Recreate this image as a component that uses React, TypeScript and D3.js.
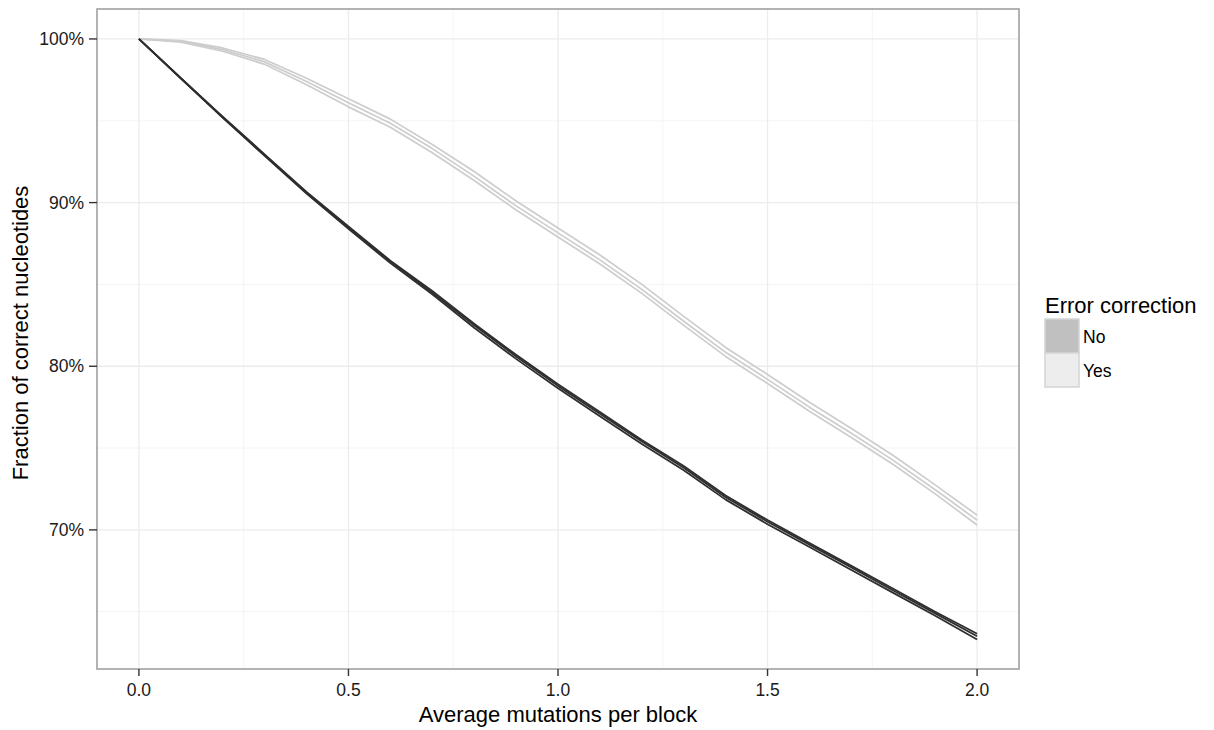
import React from "react";
import * as d3 from "d3";

// average mutations per block
const mutations = [
  0, 0.1, 0.2, 0.3, 0.4, 0.5, 0.6, 0.7, 0.8, 0.9, 1.0, 1.1, 1.2, 1.3, 1.4, 1.5,
  1.6, 1.7, 1.8, 1.9, 2.0,
];

// fraction of correct nucleotides (%), no error correction, three runs
const noRunA = [100, 97.6, 95.2, 92.9, 90.6, 88.5, 86.4, 84.5, 82.5, 80.6, 78.8, 77.1, 75.4, 73.8, 72.0, 70.5, 69.1, 67.7, 66.3, 64.9, 63.5];
const noRunB = [100, 97.6, 95.2, 92.85, 90.55, 88.4, 86.3, 84.4, 82.35, 80.45, 78.65, 76.95, 75.25, 73.65, 71.85, 70.35, 68.95, 67.55, 66.15, 64.75, 63.3];
const noRunC = [100, 97.6, 95.25, 92.95, 90.65, 88.55, 86.45, 84.6, 82.6, 80.7, 78.9, 77.2, 75.5, 73.9, 72.1, 70.6, 69.2, 67.8, 66.4, 65.0, 63.65];

// with error correction, three runs
const yesRunA = [100, 99.85, 99.35, 98.6, 97.4, 96.1, 94.85, 93.3, 91.6, 89.8, 88.15, 86.5, 84.7, 82.75, 80.85, 79.2, 77.5, 75.9, 74.25, 72.45, 70.6];
const yesRunB = [100, 99.9, 99.45, 98.75, 97.6, 96.35, 95.1, 93.55, 91.9, 90.1, 88.45, 86.8, 85.0, 83.05, 81.15, 79.5, 77.8, 76.2, 74.55, 72.75, 70.9];
const yesRunC = [100, 99.8, 99.25, 98.45, 97.2, 95.85, 94.6, 93.05, 91.35, 89.55, 87.9, 86.25, 84.45, 82.5, 80.6, 78.95, 77.25, 75.65, 74.0, 72.2, 70.3];

const xTicks = [0, 0.5, 1.0, 1.5, 2.0];
const xMinor = [0.25, 0.75, 1.25, 1.75];
const yTicks = [70, 80, 90, 100];
const yMinor = [65, 75, 85, 95];

const legendTitle = "Error correction";
const legendLabels = ["No", "Yes"];

const W = 1214;
const H = 730;
const panel = { left: 97, top: 9, right: 1019, bottom: 669 };
const font = "'Liberation Sans', Arial, sans-serif";

const App = () => {
  const x = d3.scaleLinear().domain([-0.1, 2.1]).range([panel.left, panel.right]);
  const y = d3.scaleLinear().domain([61.5, 101.83]).range([panel.bottom, panel.top]);

  const line = d3
    .line<number>()
    .x((_, i) => x(mutations[i]))
    .y((v) => y(v));

  const noRuns = [noRunA, noRunB, noRunC];
  const yesRuns = [yesRunA, yesRunB, yesRunC];

  const pw = panel.right - panel.left;
  const ph = panel.bottom - panel.top;

  return (
    <svg
      width={W}
      height={H}
      style={{ position: "absolute", left: 0, top: 0, background: "#fff" }}
      fontFamily={font}
    >
      <defs>
        <clipPath id="clip">
          <rect x={panel.left} y={panel.top} width={pw} height={ph} />
        </clipPath>
      </defs>

      {/* grid */}
      {xMinor.map((t) => (
        <line key={"xm" + t} x1={x(t)} x2={x(t)} y1={panel.top} y2={panel.bottom} stroke="#f4f4f4" strokeWidth={1} />
      ))}
      {yMinor.map((t) => (
        <line key={"ym" + t} x1={panel.left} x2={panel.right} y1={y(t)} y2={y(t)} stroke="#f4f4f4" strokeWidth={1} />
      ))}
      {xTicks.map((t) => (
        <line key={"xg" + t} x1={x(t)} x2={x(t)} y1={panel.top} y2={panel.bottom} stroke="#ececec" strokeWidth={1.3} />
      ))}
      {yTicks.map((t) => (
        <line key={"yg" + t} x1={panel.left} x2={panel.right} y1={y(t)} y2={y(t)} stroke="#ececec" strokeWidth={1.3} />
      ))}

      {/* series */}
      <g clipPath="url(#clip)" fill="none" strokeLinejoin="round">
        {yesRuns.map((r, i) => (
          <path key={"yes" + i} d={line(r) || ""} stroke="#cdcdcd" strokeWidth={1.7} />
        ))}
        {noRuns.map((r, i) => (
          <path key={"no" + i} d={line(r) || ""} stroke="#2e2e2e" strokeWidth={1.8} />
        ))}
      </g>

      {/* panel border */}
      <rect x={panel.left} y={panel.top} width={pw} height={ph} fill="none" stroke="#a0a0a0" strokeWidth={1.6} />

      {/* x axis */}
      {xTicks.map((t) => (
        <g key={"xt" + t}>
          <line x1={x(t)} x2={x(t)} y1={panel.bottom} y2={panel.bottom + 7} stroke="#333" strokeWidth={1.4} />
          <text x={x(t)} y={panel.bottom + 27} textAnchor="middle" fontSize={17.5} fill="#1a1a1a">
            {d3.format(".1f")(t)}
          </text>
        </g>
      ))}
      <text x={(panel.left + panel.right) / 2} y={722} textAnchor="middle" fontSize={22} fill="#000">
        Average mutations per block
      </text>

      {/* y axis */}
      {yTicks.map((t) => (
        <g key={"yt" + t}>
          <line x1={panel.left - 8} x2={panel.left} y1={y(t)} y2={y(t)} stroke="#333" strokeWidth={1.4} />
          <text x={panel.left - 13} y={y(t) + 6} textAnchor="end" fontSize={17.5} fill="#1a1a1a">
            {t + "%"}
          </text>
        </g>
      ))}
      <text
        transform={`translate(28,${(panel.top + panel.bottom) / 2 - 6}) rotate(-90)`}
        textAnchor="middle"
        fontSize={22}
        fill="#000"
      >
        Fraction of correct nucleotides
      </text>

      {/* legend */}
      <text x={1045} y={313} fontSize={22} fill="#000">
        {legendTitle}
      </text>
      {legendLabels.map((lab, i) => (
        <g key={lab} transform={`translate(1045,${319 + i * 34})`}>
          <rect x={0} y={0} width={34} height={34} fill={i === 0 ? "#c0c0c0" : "#ededed"} stroke="#d4d4d4" strokeWidth={1.5} />
          <text x={38} y={24} fontSize={17.5} fill="#000">
            {lab}
          </text>
        </g>
      ))}
    </svg>
  );
};

export default App;
